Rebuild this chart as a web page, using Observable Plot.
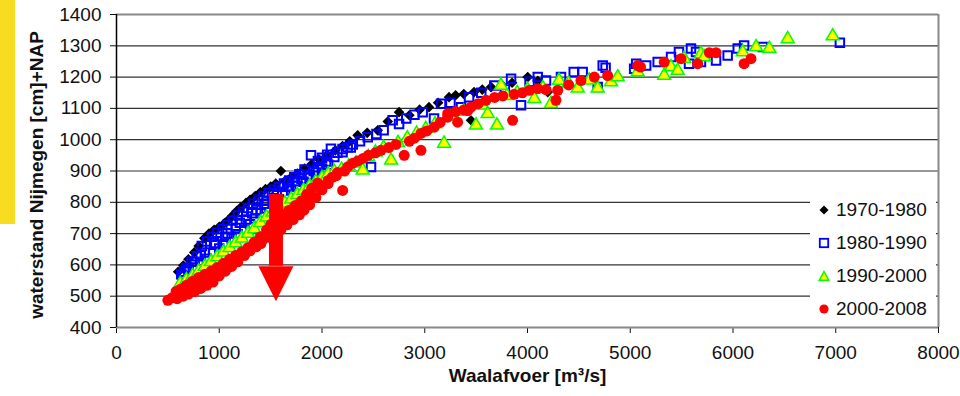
<!DOCTYPE html>
<html>
<head>
<meta charset="utf-8">
<script src="https://cdn.jsdelivr.net/npm/d3@7"></script>
<script src="https://cdn.jsdelivr.net/npm/@observablehq/plot@0.6"></script>
<style>
  html, body { margin: 0; padding: 0; background: #fff; }
  #wrap { position: relative; width: 960px; height: 396px; overflow: hidden; font-family: "Liberation Sans", Arial, sans-serif; }
  #bar { position: absolute; left: 0; top: 0; width: 15px; height: 224px; background: #F7DC1F; }
  #legend { position: absolute; left: 810px; top: 193px; width: 126px; height: 133px; background: #fff; }
  .row { position: absolute; left: 0; height: 33px; display: flex; align-items: center; font-size: 19px; color: #111; }
  .row svg { margin-left: 8px; margin-right: 6px; }
</style>
</head>
<body>
<div id="wrap"><div id="chart"></div><div id="bar"></div><div id="legend"></div></div>
<script>
// ---- data ----
const seriesNames = ["1970-1980", "1980-1990", "1990-2000", "2000-2008"];
const xTicks = [0, 1000, 2000, 3000, 4000, 5000, 6000, 7000, 8000];
const yTicks = [400, 500, 600, 700, 800, 900, 1000, 1100, 1200, 1300, 1400];
const xLabel = "Waalafvoer [m³/s]";
const yLabel = "waterstand Nijmegen [cm]+NAP";

const s1970 = [[600,578],[650,598],[700,618],[757,640],[800,660],[855,685],[900,700],[950,712],[1000,722],[1050,733],[1082,742],[1130,758],[1170,772],[1212,785],[1260,798],[1300,808],[1350,820],[1400,832],[1450,842],[1500,850],[1550,860],[1600,900],[1640,868],[1700,880],[1760,892],[1830,908],[1900,922],[1970,937],[2050,952],[2130,966],[2200,980],[2270,995],[2347,1014],[2440,1022],[2542,1030],[2640,1058],[2750,1088],[2850,1078],[2950,1096],[3041,1104],[3130,1118],[3236,1136],[3300,1142],[3380,1146],[3450,1062],[3480,1152],[3560,1160],[3645,1168],[3750,1175],[3850,1182],[4002,1200],[4100,1188],[4197,1152]];

const s1980 = [[630,570],[680,590],[730,610],[780,628],[830,660],[880,675],[930,690],[980,703],[1030,715],[1080,728],[1130,742],[1180,758],[1230,770],[1280,782],[1330,795],[1380,808],[1430,820],[1480,830],[1530,840],[1580,850],[1630,860],[1680,870],[1730,880],[1780,890],[1830,905],[1893,950],[1960,932],[2000,942],[2050,952],[2087,971],
  [700,590],[820,630],[950,670],[1080,700],[1200,735],[1320,765],[1440,795],[1560,825],[1680,850],[1800,875],[1920,900],
  [660,578],[760,610],[860,640],[960,665],[1060,690],[1160,718],[1260,745],[1360,775],[1460,805],[1560,830],[1660,850],[1760,868],[1860,888],[1960,912],[2040,930],[2120,945],[2200,960],[2280,975],
  [640,566],[700,580],[760,592],[822,605],[880,620],[940,637],[1000,652],[1060,668],[1120,684],[1180,698],[1244,712],[1300,730],[1350,748],[1406,765],[1460,780],[1520,795],[1580,810],[1640,825],[1700,838],[1760,852],[1820,866],[1880,880],[1940,895],[2000,908],[2060,920],
  [2150,958],[2200,970],[2250,976],[2300,985],[2370,995],[2445,1008],[2477,913],[2530,1018],[2600,1030],[2688,1062],[2750,1050],[2820,1068],[2900,1080],[2980,1088],[3090,1068],[3158,1115],[3250,1118],[3353,1104],[3431,1136],[3550,1150],[3677,1173],[3780,1160],[3840,1195],[3937,1110],[4020,1185],[4100,1200],[4180,1189],[4326,1200],[4450,1216],[4537,1216],[4683,1168],[4732,1237],[4760,1230],[5038,1227],[5058,1243],[5155,1237],[5267,1248],[5397,1264],[5474,1280],[5572,1243],[5591,1291],[5640,1280],[5688,1248],[5835,1253],[5948,1269],[6046,1291],[6108,1301],[6289,1296],[7040,1310]];

const s1990 = [[620,540],[680,552],[740,565],[800,580],[860,595],[920,610],[980,625],[1040,640],[1100,655],[1160,670],[1220,685],[1280,700],[1340,715],[1400,735],[1460,752],[1520,768],[1580,782],[1640,797],[1700,810],[1760,824],[1820,838],[1880,852],[1940,866],[2000,878],[2060,890],[2120,898],[2190,905],[2260,915],[2330,925],[2396,902],[2450,945],[2520,960],[2600,975],[2672,934],[2740,990],[2830,1005],[2920,1020],[3010,1035],[3100,1050],[3188,988],[3280,1075],[3380,1090],[3499,1046],[3560,1110],[3612,1083],[3703,1046],[3742,1173],[3800,1140],[3900,1150],[4000,1160],[4066,1131],[4150,1165],[4229,1115],[4307,1189],[4400,1180],[4489,1164],[4600,1190],[4683,1164],[4812,1184],[4878,1200],[5072,1216],[5330,1205],[5397,1232],[5462,1221],[5525,1259],[5688,1274],[5720,1264],[6095,1280],[6225,1296],[6353,1291],[6532,1322],[6970,1331]];

const s2000 = [[580,515],[620,522],[680,535],[740,548],[800,560],[860,570],[920,580],[980,592],[1040,605],[1100,618],[1160,630],[1220,642],[1280,655],[1340,672],[1400,690],[1460,712],[1503,730],[1560,745],[1620,760],[1680,775],[1740,790],[1800,805],[1850,825],[1900,845],[1958,862],
  [540,495],[620,508],[700,522],[780,538],[860,552],[940,565],[1020,585],[1100,602],[1180,620],[1260,640],[1340,660],[1420,680],[1500,705],[1580,725],[1660,748],[1740,768],[1820,790],[1900,818],[1980,845],[2060,870],[2140,885],[2220,900],
  [500,487],[590,492],[650,500],[700,507],[760,515],[820,525],[880,535],[940,545],[1000,565],[1060,580],[1120,595],[1180,610],[1244,630],[1300,645],[1360,658],[1406,668],[1480,688],[1540,700],[1600,712],[1660,728],[1720,745],[1780,760],[1825,775],[1880,792],[1940,815],[2000,840],[2060,860],
  [2100,880],[2150,895],[2201,838],[2250,913],[2300,925],[2350,932],[2400,940],[2450,950],[2520,958],[2574,966],[2650,975],[2720,985],[2800,950],[2850,995],[2900,1005],[2963,1020],[2963,966],[3020,1028],[3093,1040],[3150,1055],[3223,1072],[3223,1083],[3320,1056],[3300,1090],[3418,1093],[3380,1095],[3450,1104],[3520,1115],[3596,1126],[3680,1135],[3760,1140],[3855,1062],[3870,1145],[3950,1150],[4020,1158],[4100,1163],[4180,1160],[4294,1158],[4277,1126],[4400,1175],[4520,1189],[4650,1200],[4780,1205],[5072,1237],[5100,1232],[5330,1248],[5494,1259],[5656,1243],[5770,1278],[5835,1278],[6108,1243],[6175,1259]];

// red arrow annotation
const arrowX = [1552];
const arrowTop = [825];
const arrowBase = [596];

// ---- build ----
const toRows = (arr) => arr.map(([x, y]) => ({x, y}));
const arrow = arrowX.map((x, i) => ({x, top: arrowTop[i], base: arrowBase[i]}));
const arrowHead = {
  draw(ctx) { ctx.moveTo(-17.5, 0); ctx.lineTo(17.5, 0); ctx.lineTo(0, 35); ctx.closePath(); }
};
const gridVals = yTicks.filter(v => v > 400 && v < 1400);

const chart = Plot.plot({
  width: 960,
  height: 396,
  marginLeft: 116,
  marginRight: 22,
  marginTop: 14,
  marginBottom: 69,
  style: {fontFamily: "'Liberation Sans', Arial, sans-serif", fontSize: "19px", color: "#111", background: "#fff"},
  x: {domain: [0, 8000], ticks: xTicks, tickSize: 6, tickPadding: 12, tickFormat: d => String(d), label: null},
  y: {domain: [400, 1400], ticks: yTicks, tickSize: 6, tickPadding: 9, tickFormat: d => String(d), label: null},
  marks: [
    Plot.ruleY(gridVals, {stroke: "#333", strokeWidth: 1.2}),
    Plot.ruleY([1400, 400], {stroke: "#888", strokeWidth: 2}),
    Plot.ruleX([8000], {stroke: "#888", strokeWidth: 2}),
    Plot.ruleX([0], {stroke: "#000", strokeWidth: 1.5}),
    Plot.dot(toRows(s1970), {x: "x", y: "y", symbol: "diamond2", r: 4.8, fill: "#000", stroke: "none"}),
    Plot.dot(toRows(s1980), {x: "x", y: "y", symbol: "square", r: 4.8, fill: "none", stroke: "#0000FF", strokeWidth: 2}),
    Plot.dot(toRows(s1990), {x: "x", y: "y", symbol: "triangle", r: 4.8, fill: "#FFFF00", stroke: "#00FF00", strokeWidth: 1.5}),
    Plot.dot(toRows(s2000), {x: "x", y: "y", symbol: "circle", r: 5.5, fill: "#FF0000", stroke: "none"}),
    Plot.ruleX(arrow, {x: "x", y1: "top", y2: "base", stroke: "#FF0000", strokeWidth: 14}),
    Plot.dot(arrow, {x: "x", y: "base", symbol: arrowHead, r: 5, fill: "#FF0000", stroke: "none"}),
    Plot.text([xLabel], {frameAnchor: "bottom", dy: 54, text: d => d, textAnchor: "middle", fontWeight: "bold", fontSize: 19, fill: "#111", letterSpacing: "1px"}),
    Plot.text([yLabel], {frameAnchor: "left", dx: -80, dy: 4, rotate: -90, text: d => d, textAnchor: "middle", fontWeight: "bold", fontSize: 19, fill: "#111", letterSpacing: "0.5px"})
  ]
});
document.getElementById("chart").appendChild(chart);

// legend
const legendMarkers = [
  '<svg width="12" height="12"><path d="M6,1.5L10.5,6L6,10.5L1.5,6Z" fill="#000"/></svg>',
  '<svg width="12" height="12"><rect x="1.8" y="1.8" width="8.4" height="8.4" fill="none" stroke="#0000FF" stroke-width="1.8"/></svg>',
  '<svg width="12" height="12"><path d="M6,1.5L10.8,10.3L1.2,10.3Z" fill="#FFFF00" stroke="#00FF00" stroke-width="1.5"/></svg>',
  '<svg width="12" height="12"><circle cx="6" cy="6" r="4.6" fill="#FF0000"/></svg>'
];
const legend = document.getElementById("legend");
seriesNames.forEach((name, i) => {
  const row = document.createElement("div");
  row.className = "row";
  row.style.top = (i * 33) + "px";
  row.innerHTML = legendMarkers[i] + "<span>" + name + "</span>";
  legend.appendChild(row);
});
</script>
</body>
</html>
